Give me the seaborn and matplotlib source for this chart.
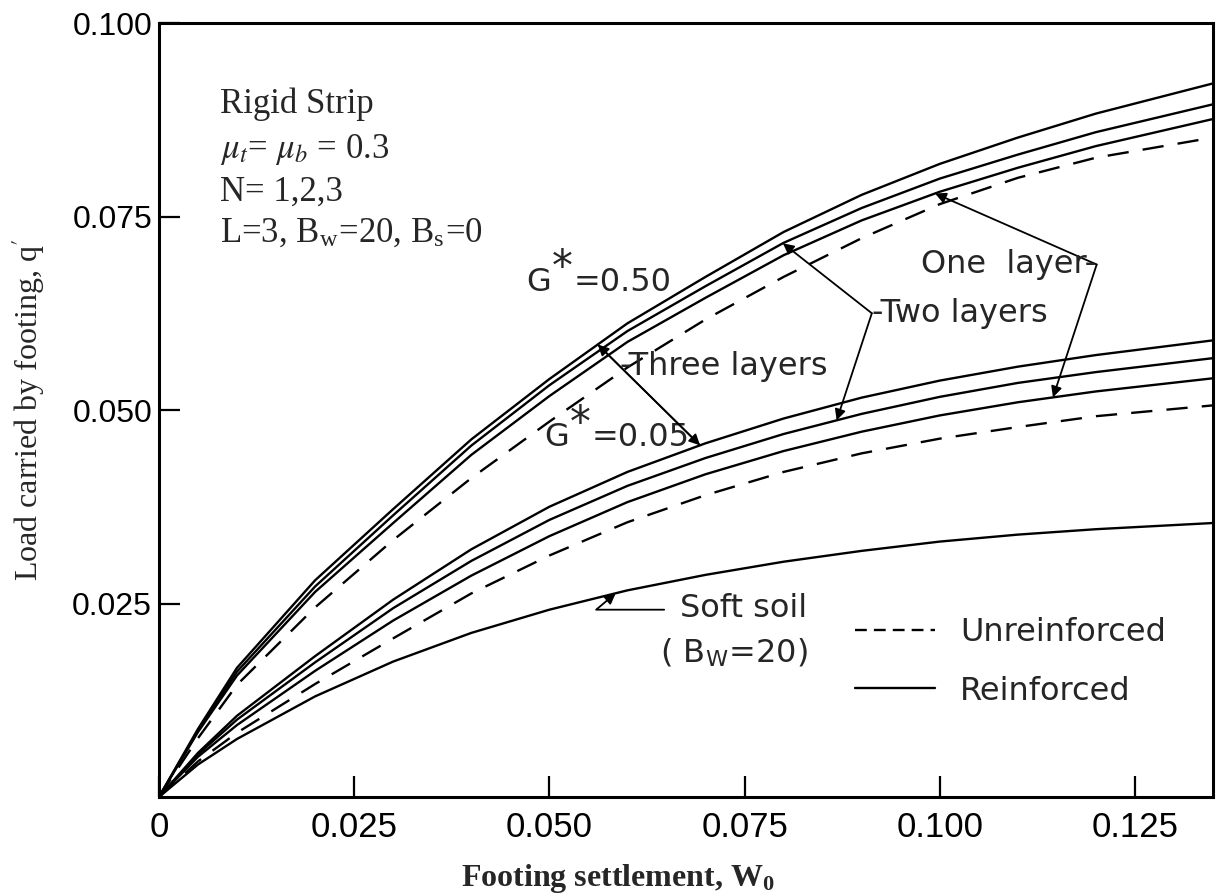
import numpy as np
import pandas as pd
import matplotlib
matplotlib.use("Agg")
import matplotlib.pyplot as plt
from matplotlib.lines import Line2D
import seaborn as sns

# footing settlement W0
W = [0, 0.005, 0.01, 0.02, 0.03, 0.04, 0.05, 0.06, 0.07, 0.08, 0.09, 0.10, 0.11, 0.12, 0.135]

# G* = 0.50
g50_three = [0, 0.0088, 0.0167, 0.0280, 0.0372, 0.0462, 0.0540, 0.0612, 0.0672, 0.0730, 0.0778, 0.0818, 0.0852, 0.0883, 0.0922]
g50_two = [0, 0.0086, 0.0162, 0.0272, 0.0364, 0.0454, 0.0532, 0.0602, 0.0660, 0.0716, 0.0761, 0.0799, 0.0830, 0.0859, 0.0895]
g50_one = [0, 0.0084, 0.0157, 0.0265, 0.0354, 0.0442, 0.0518, 0.0588, 0.0645, 0.0700, 0.0745, 0.0782, 0.0813, 0.0841, 0.0876]
g50_unr = [0, 0.0076, 0.0145, 0.0245, 0.0332, 0.0412, 0.0485, 0.0555, 0.0617, 0.0672, 0.0722, 0.0766, 0.0800, 0.0826, 0.0852]

# G* = 0.05
g05_three = [0, 0.0057, 0.0105, 0.0182, 0.0255, 0.0320, 0.0375, 0.0420, 0.0457, 0.0489, 0.0516, 0.0538, 0.0556, 0.0571, 0.0590]
g05_two = [0, 0.0055, 0.0100, 0.0174, 0.0244, 0.0305, 0.0358, 0.0402, 0.0438, 0.0469, 0.0495, 0.0517, 0.0535, 0.0549, 0.0567]
g05_one = [0, 0.0052, 0.0093, 0.0163, 0.0228, 0.0286, 0.0337, 0.0381, 0.0417, 0.0447, 0.0472, 0.0493, 0.0510, 0.0524, 0.0541]
g05_unr = [0, 0.0046, 0.0083, 0.0146, 0.0205, 0.0263, 0.0312, 0.0355, 0.0390, 0.0420, 0.0444, 0.0463, 0.0478, 0.0492, 0.0506]

# soft soil (Bw=20)
soft = [0, 0.0042, 0.0075, 0.0130, 0.0175, 0.0212, 0.0242, 0.0267, 0.0287, 0.0304, 0.0318, 0.0330, 0.0339, 0.0346, 0.0354]

curves = {
    "g50_three": (g50_three, "Reinforced"), "g50_two": (g50_two, "Reinforced"),
    "g50_one": (g50_one, "Reinforced"), "g50_unr": (g50_unr, "Unreinforced"),
    "g05_three": (g05_three, "Reinforced"), "g05_two": (g05_two, "Reinforced"),
    "g05_one": (g05_one, "Reinforced"), "g05_unr": (g05_unr, "Unreinforced"),
    "soft": (soft, "Reinforced"),
}
rows = []
for name, (vals, kind) in curves.items():
    for w, q in zip(W, vals):
        rows.append({"W": w, "q": q, "curve": name, "kind": kind})
df = pd.DataFrame(rows)

sns.set_style("ticks")
plt.rcParams["font.family"] = ["DejaVu Sans"]
plt.rcParams["mathtext.fontset"] = "stix"

fig = plt.figure(figsize=(12.2, 8.96), dpi=100)
ax = fig.add_axes([0.1303, 0.1105, 0.8640, 0.8638])

sns.lineplot(data=df, x="W", y="q", units="curve", estimator=None, style="kind",
             dashes={"Reinforced": "", "Unreinforced": (9, 6)}, color="black",
             linewidth=1.7, legend=False, ax=ax)

ax.set_xlim(0, 0.135)
ax.set_ylim(0, 0.100)
ax.set_xticks([0, 0.025, 0.05, 0.075, 0.1, 0.125])
ax.set_xticklabels(["0", "0.025", "0.050", "0.075", "0.100", "0.125"])
ax.set_yticks([0.025, 0.05, 0.075, 0.1])
ax.set_yticklabels(["0.025", "0.050", "0.075", "0.100"])
ax.tick_params(direction="in", length=15, width=1.6, colors="black")
ax.tick_params(axis="x", pad=10)
ax.tick_params(axis="y", pad=5)
for lab in ax.get_xticklabels():
    lab.set_family("Liberation Sans")
    lab.set_fontsize(25)
for lab in ax.get_yticklabels():
    lab.set_family("Liberation Sans")
    lab.set_fontsize(23)
for sp in ax.spines.values():
    sp.set_visible(True)
    sp.set_linewidth(2.2)
    sp.set_color("black")

ax.set_xlabel("Footing settlement, W$_\\mathregular{0}$", family="Liberation Serif",
              fontsize=23, fontweight="bold", va="center")
ax.xaxis.set_label_coords(0.4355, -0.1047)
ax.set_ylabel("Load carried by footing, q$'$", family="Liberation Serif",
              fontsize=23, va="center")
ax.yaxis.set_label_coords(-0.124, 0.5)

serif = dict(family="Liberation Serif", fontsize=25, va="center", ha="left")
ax.text(0.0078, 0.0895, "Rigid Strip", **serif)
ax.text(0.0078, 0.0836, "$\\mu_t$= $\\mu_b$ = 0.3", **serif)
ax.text(0.0078, 0.0782, "N= 1,2,3", **serif)
ax.text(0.0078, 0.0728, "L=3, B$_\\mathregular{w}$=20, B$_\\mathregular{s}$=0", **serif)

sans = dict(fontsize=23, va="center")


def gstar(x, y, val):
    # G, a large raised asterisk, then the value
    ax.text(x, y, "G", ha="left", **sans)
    ax.annotate("*", xy=(x, y), xytext=(18, 10), textcoords="offset points",
                fontsize=30, ha="left", va="center")
    ax.annotate("=" + val, xy=(x, y), xytext=(34, 0), textcoords="offset points",
                ha="left", **sans)


gstar(0.0471, 0.0665, "0.50")
gstar(0.0494, 0.0464, "0.05")

arrow = dict(arrowstyle="-|>", color="black", lw=1.3, mutation_scale=16,
             shrinkA=0, shrinkB=0)


def on(curve, w):
    return float(np.interp(w, W, curve))


# Three layers: one straight leader between two curves, arrows at both ends
a = (0.0562, on(g50_three, 0.0562))
b = (0.0693, on(g05_three, 0.0693))
ax.annotate("", xy=a, xytext=b, arrowprops=arrow)
ax.annotate("", xy=b, xytext=a, arrowprops=arrow)
qj = 0.0556
wj = a[0] + (qj - a[1]) / (b[1] - a[1]) * (b[0] - a[0])
ax.text(wj, qj, "-Three layers", ha="left", **sans)

# Two layers
j2 = (0.0913, 0.0625)
ax.annotate("", xy=(0.0799, on(g50_two, 0.0799)), xytext=j2, arrowprops=arrow)
ax.annotate("", xy=(0.0868, on(g05_two, 0.0868)), xytext=j2, arrowprops=arrow)
ax.text(j2[0], j2[1], "-Two layers", ha="left", **sans)

# One layer
j1 = (0.1201, 0.0688)
ax.annotate("", xy=(0.0994, on(g50_one, 0.0994)), xytext=j1, arrowprops=arrow)
ax.annotate("", xy=(0.1145, on(g05_one, 0.1145)), xytext=j1, arrowprops=arrow)
ax.text(j1[0], j1[1], "One  layer-", ha="right", **sans)

# Soft soil
ax.annotate("", xy=(0.0585, on(soft, 0.0585)), xytext=(0.0647, 0.0242),
            arrowprops=dict(arrow, connectionstyle="angle,angleA=0,angleB=40,rad=0"))
ax.text(0.0667, 0.0244, "Soft soil", ha="left", **sans)
ax.text(0.0642, 0.0187, "( B$_\\mathregular{W}$=20)", ha="left", **sans)

handles = [Line2D([], [], color="black", lw=1.7, dashes=(5, 3)),
           Line2D([], [], color="black", lw=1.7)]
ax.legend(handles, ["Unreinforced", "Reinforced"], loc="upper left",
          bbox_to_anchor=(0.0891, 0.0232), bbox_transform=ax.transData,
          frameon=False, fontsize=23, handlelength=2.5, handletextpad=0.8,
          labelspacing=0.85, borderpad=0, borderaxespad=0)

fig.savefig("out.png", dpi=100)
